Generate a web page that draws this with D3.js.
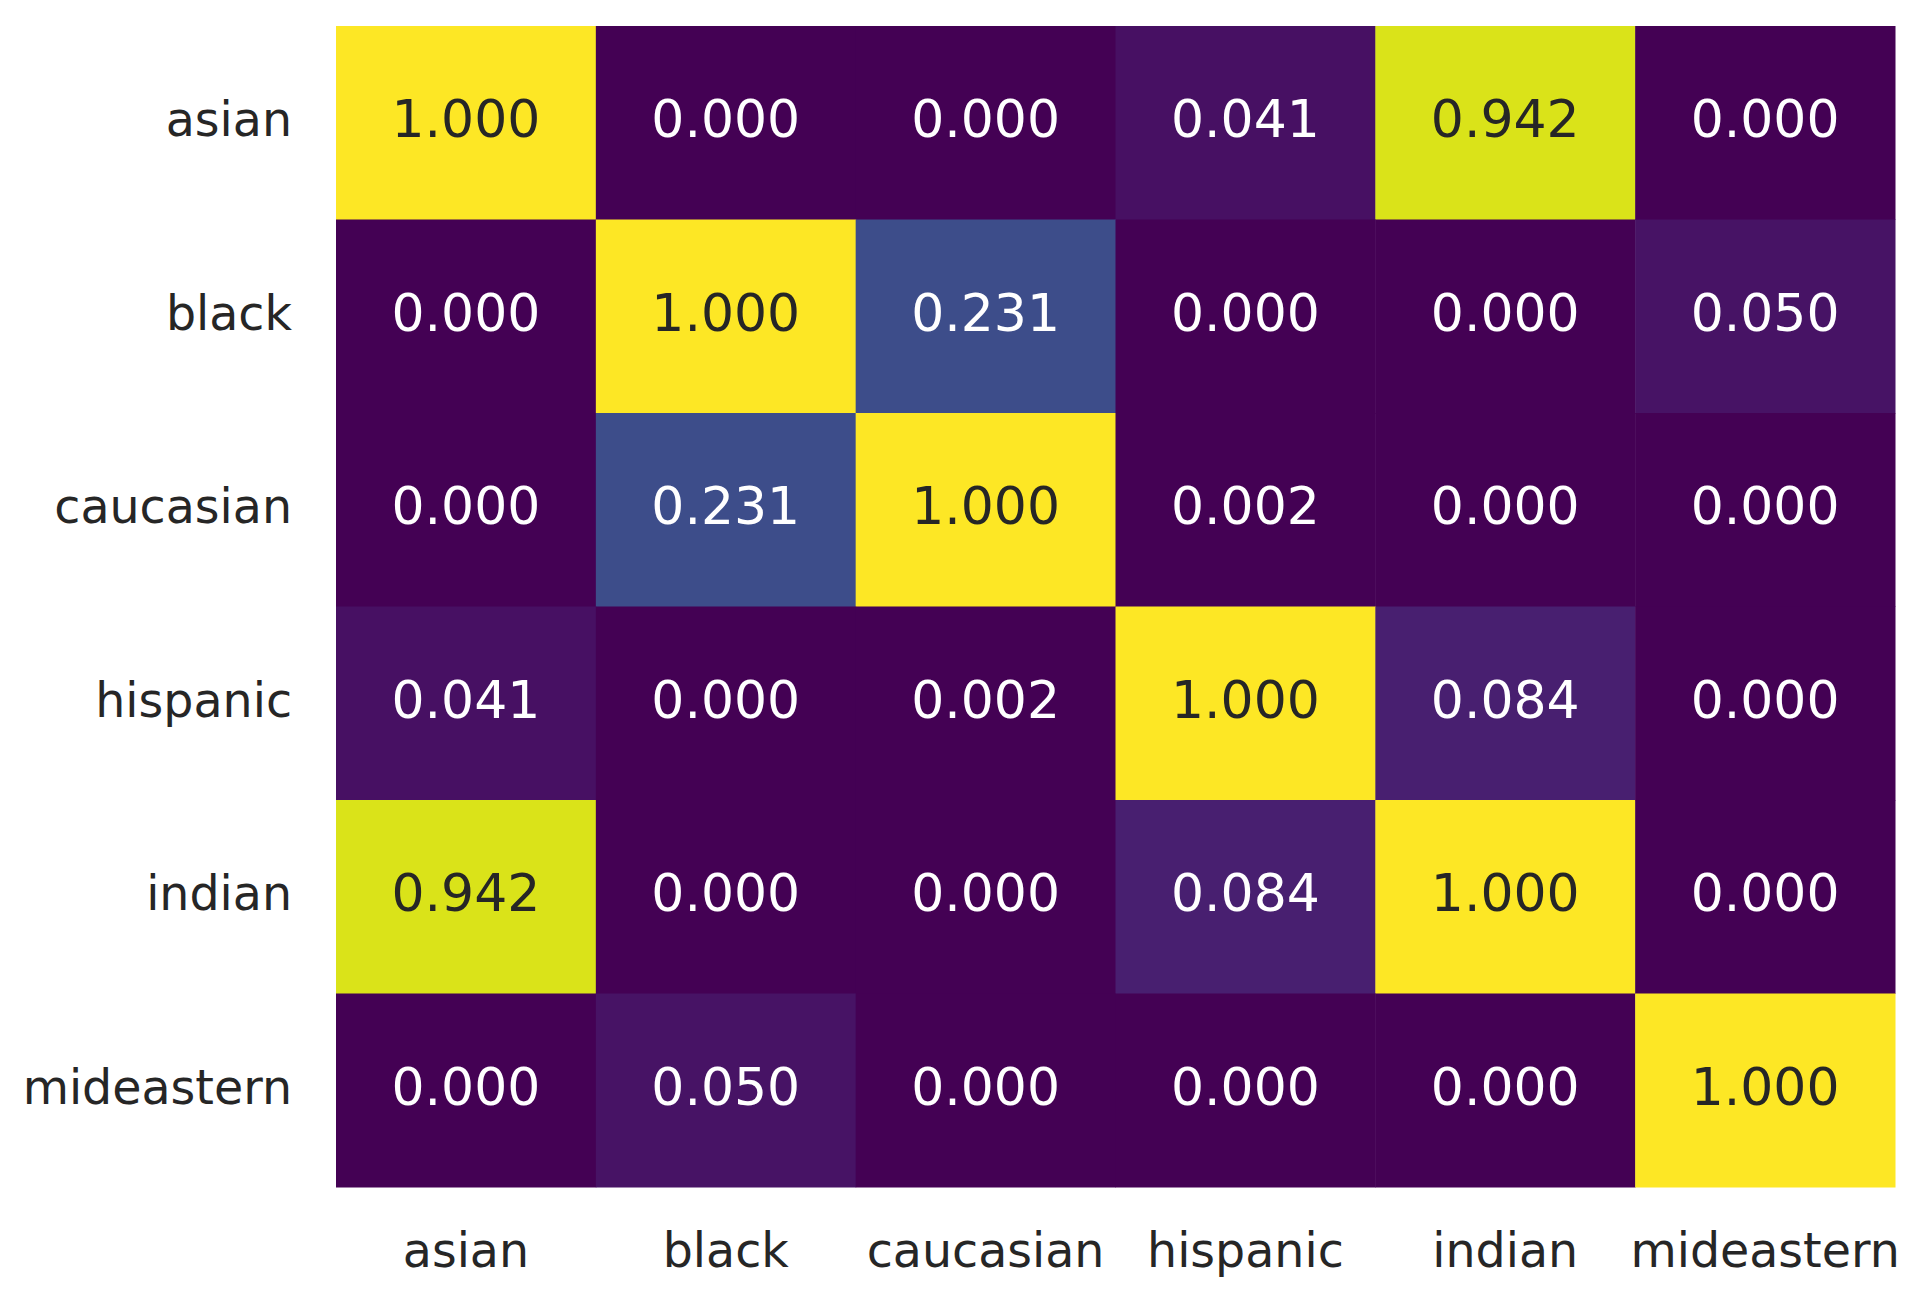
<!DOCTYPE html>
<html>
<head>
<meta charset="utf-8">
<script src="https://cdn.jsdelivr.net/npm/d3@7"></script>
<style>
  html, body { margin: 0; padding: 0; background: #ffffff; }
  svg { display: block; }
  text { font-family: "DejaVu Sans", sans-serif; }
</style>
</head>
<body>
<script>
const rowLabels = ["asian", "black", "caucasian", "hispanic", "indian", "mideastern"];
const colLabels = ["asian", "black", "caucasian", "hispanic", "indian", "mideastern"];
const rowAsian      = [1.000, 0.000, 0.000, 0.041, 0.942, 0.000];
const rowBlack      = [0.000, 1.000, 0.231, 0.000, 0.000, 0.050];
const rowCaucasian  = [0.000, 0.231, 1.000, 0.002, 0.000, 0.000];
const rowHispanic   = [0.041, 0.000, 0.002, 1.000, 0.084, 0.000];
const rowIndian     = [0.942, 0.000, 0.000, 0.084, 1.000, 0.000];
const rowMideastern = [0.000, 0.050, 0.000, 0.000, 0.000, 1.000];
const matrix = [rowAsian, rowBlack, rowCaucasian, rowHispanic, rowIndian, rowMideastern];

const W = 1926, H = 1296;
const mLeft = 336, mRight = 1895, mTop = 26, mBottom = 1187;
const annotSize = 52;
const labelSize = 47.5;

const svg = d3.select("body").append("svg").attr("width", W).attr("height", H);

const x = d3.scaleBand().domain(colLabels).range([mLeft, mRight]).padding(0);
const y = d3.scaleBand().domain(rowLabels).range([mTop, mBottom]).padding(0);
const color = d3.scaleSequential(d3.interpolateViridis).domain([0, 1]);

const cells = [];
matrix.forEach((row, i) => row.forEach((v, j) => cells.push({r: rowLabels[i], c: colLabels[j], v})));

svg.append("g").selectAll("rect").data(cells).join("rect")
  .attr("x", d => x(d.c))
  .attr("y", d => y(d.r))
  .attr("width", x.bandwidth() + 0.5)
  .attr("height", y.bandwidth() + 0.5)
  .attr("fill", d => color(d.v));

function lum(c) {
  const rgb = d3.rgb(c);
  const f = v => { v /= 255; return v <= 0.03928 ? v / 12.92 : Math.pow((v + 0.055) / 1.055, 2.4); };
  return 0.2126 * f(rgb.r) + 0.7152 * f(rgb.g) + 0.0722 * f(rgb.b);
}

svg.append("g").selectAll("text").data(cells).join("text")
  .attr("x", d => x(d.c) + x.bandwidth() / 2)
  .attr("y", d => y(d.r) + y.bandwidth() / 2 + 14.5)
  .attr("text-anchor", "middle")
  .attr("font-size", annotSize)
  .attr("fill", d => lum(color(d.v)) > 0.408 ? "#262626" : "#ffffff")
  .text(d => d3.format(".3f")(d.v));

// axes
const xAxis = d3.axisBottom(x).tickSize(0).tickPadding(0);
const gx = svg.append("g").attr("transform", `translate(0,${mBottom})`).call(xAxis);
gx.select(".domain").remove();
gx.selectAll("text")
  .attr("font-size", labelSize)
  .attr("font-family", "DejaVu Sans")
  .attr("fill", "#262626")
  .attr("dy", null)
  .attr("x", 0)
  .attr("y", 1267 - mBottom);

const yAxis = d3.axisLeft(y).tickSize(0).tickPadding(0);
const gy = svg.append("g").attr("transform", `translate(${mLeft},0)`).call(yAxis);
gy.select(".domain").remove();
gy.selectAll("text")
  .attr("font-size", labelSize)
  .attr("font-family", "DejaVu Sans")
  .attr("fill", "#262626")
  .attr("dy", null)
  .attr("x", -44)
  .attr("y", 13.5);
</script>
</body>
</html>
